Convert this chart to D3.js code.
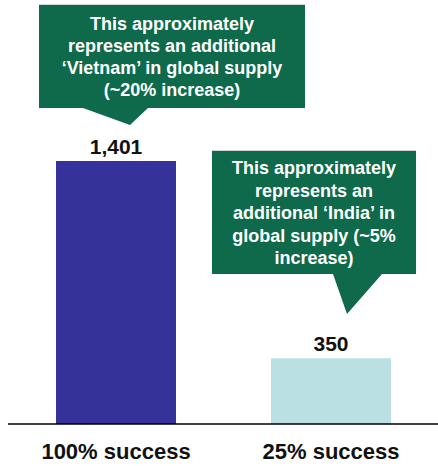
<!DOCTYPE html>
<html><head><meta charset="utf-8">
<script src="https://cdn.jsdelivr.net/npm/d3@7"></script>
<style>body{margin:0;background:#fff}svg{display:block}text{font-family:"Liberation Sans",Arial,sans-serif;font-weight:bold}</style>
</head><body>
<script>
const categories = ["100% success", "25% success"];
const values = [1401, 350];
const valueLabels = ["1,401", "350"];
const barColors = ["#353399", "#BAE0E3"];
const calloutLines = [
  ["This approximately", "represents an additional", "\u2018Vietnam\u2019 in global supply", "(~20% increase)"],
  ["This approximately", "represents an", "additional \u2018India\u2019 in", "global supply (~5%", "increase)"]
];

const W = 438, H = 466;
const svg = d3.select("body").append("svg").attr("width", W).attr("height", H);

const x = d3.scaleBand().domain(categories).range([8.5, 438.5]).paddingInner(0.442).paddingOuter(0.221);
const y = d3.scaleLinear().domain([0, 1401]).range([424, 161]);

// bars
svg.selectAll("rect.bar").data(values).join("rect")
  .attr("class", "bar")
  .attr("x", (d, i) => x(categories[i]))
  .attr("width", x.bandwidth())
  .attr("y", d => y(d))
  .attr("height", d => y(0) - y(d))
  .attr("fill", (d, i) => barColors[i]);

// value labels
svg.selectAll("text.val").data(values).join("text")
  .attr("class", "val")
  .attr("x", (d, i) => x(categories[i]) + x.bandwidth() / 2)
  .attr("y", d => y(d) - 7)
  .attr("text-anchor", "middle")
  .attr("font-size", 21)
  .attr("fill", "#111")
  .text((d, i) => valueLabels[i]);

// axis
const xAxis = d3.axisBottom(x).tickSize(0).tickPadding(0);
const ax = svg.append("g").attr("transform", `translate(0,${y(0)})`).call(xAxis);
ax.select(".domain").attr("d", "M8,0H438").attr("stroke", "#000").attr("stroke-width", 1.5);
ax.selectAll(".tick text")
  .attr("y", 35)
  .attr("dy", 0)
  .attr("font-size", 22)
  .attr("font-family", "Liberation Sans, Arial, sans-serif")
  .attr("font-weight", "bold")
  .attr("fill", "#111");

// callouts
const green = "#0E6A4B";
const callouts = [
  {x0: 39, x1: 305, y0: 4, y1: 108, b0: 83, b1: 148, tipX: 130, tipY: 125, cx: 172, base: 30, lh: 22, lines: calloutLines[0]},
  {x0: 212, x1: 416, y0: 150, y1: 274, b0: 333, b1: 382, tipX: 347, tipY: 314, cx: 314, base: 174, lh: 22.5, lines: calloutLines[1]}
];
callouts.forEach(c => {
  const p = d3.path();
  p.moveTo(c.x0, c.y0); p.lineTo(c.x1, c.y0); p.lineTo(c.x1, c.y1);
  p.lineTo(c.b1, c.y1); p.lineTo(c.tipX, c.tipY); p.lineTo(c.b0, c.y1);
  p.lineTo(c.x0, c.y1); p.closePath();
  svg.append("path").attr("d", p.toString()).attr("fill", green);
  svg.append("line").attr("x1", c.x0).attr("x2", c.x1).attr("y1", c.y0 + 0.5).attr("y2", c.y0 + 0.5)
    .attr("stroke", "#cfd8d4").attr("stroke-width", 1);
  svg.selectAll(null).data(c.lines).join("text")
    .attr("x", c.cx).attr("y", (d, i) => c.base + i * c.lh)
    .attr("text-anchor", "middle").attr("font-size", 18).attr("fill", "#fff")
    .text(d => d);
});
</script>
</body></html>
